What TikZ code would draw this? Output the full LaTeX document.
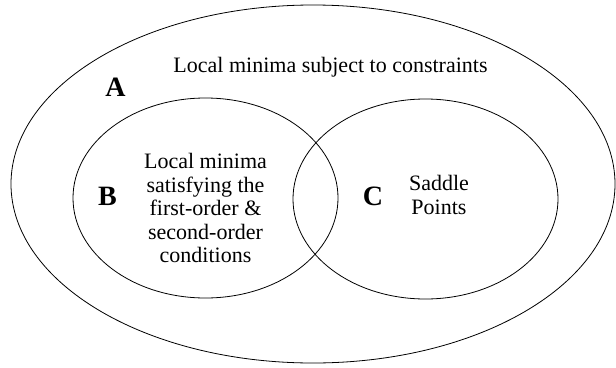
\documentclass[tikz,border=0pt]{standalone}
\usepackage{fontspec}
\setmainfont{Liberation Serif}
\usetikzlibrary{shapes}
\usetikzlibrary{positioning}

\begin{document}
\begin{tikzpicture}[
    x=1pt, y=-1pt,
    line width=0.8pt
]
\tikzset{
    region/.style = {ellipse, draw=black, inner sep=0pt, outer sep=0pt},
    setlabel/.style = {font=\fontsize{28}{28}\selectfont\bfseries},
    settext/.style = {align=center, font=\fontsize{22}{23.5}\selectfont}
}
\useasboundingbox (0,0) rectangle (616,367);
% sets
\node[region, minimum width=604pt, minimum height=358pt] at (313,184) (setA) {};
\node[region, minimum width=265pt, minimum height=200pt] at (205.5,198) (setB) {};
\node[region, minimum width=265pt, minimum height=200pt] at (425.5,199) (setC) {};
% labels
\node[setlabel] at (115.5,87) (labA) {A};
\node[setlabel] at (107.5,196) (labB) {B};
\node[setlabel] at (373,196) (labC) {C};
\node[settext] at (330.5,67) (txtA) {Local minima subject to constraints};
\node[settext] at (205.5,208) (txtB) {Local minima\\satisfying the\\first-order \&\\second-order\\conditions};
\node[settext] at (439,195) (txtC) {Saddle\\Points};
\end{tikzpicture}
\end{document}
